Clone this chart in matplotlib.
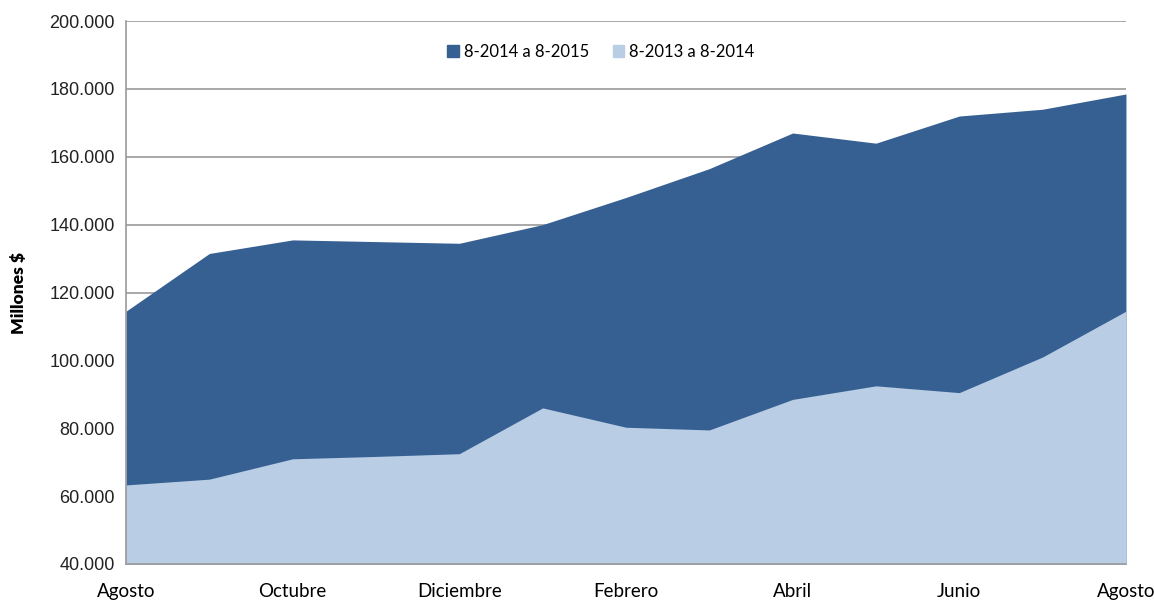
import matplotlib.pyplot as plt
from matplotlib.patches import Patch
from matplotlib.ticker import FuncFormatter

meses = ['Agosto', 'Septiembre', 'Octubre', 'Noviembre', 'Diciembre', 'Enero', 'Febrero',
         'Marzo', 'Abril', 'Mayo', 'Junio', 'Julio', 'Agosto']
serie_2015 = [114500, 131500, 135500, 135000, 134500, 140000, 148000,
              156500, 167000, 164000, 172000, 174000, 178500]
serie_2014 = [63300, 65000, 71000, 71700, 72500, 86000, 80300,
              79500, 88500, 92500, 90500, 101000, 114500]
etiquetas = ['8-2014 a 8-2015', '8-2013 a 8-2014']
colores = ['#366092', '#B9CDE5']

fig = plt.figure(figsize=(11.54, 6), dpi=100)
ax = fig.add_axes([0.1092, 0.06, 0.8665, 0.905])

x = list(range(len(meses)))
base = 40000
ax.fill_between(x, base, serie_2015, color=colores[0], linewidth=0, zorder=2)
ax.fill_between(x, base, serie_2014, color=colores[1], linewidth=0, zorder=3)

ax.set_xlim(0, len(meses) - 1)
ax.set_ylim(40000, 200000)
ax.set_yticks(range(40000, 200001, 20000))
ax.yaxis.set_major_formatter(FuncFormatter(lambda v, p: f'{int(v):,}'.replace(',', '.')))
ax.set_xticks(x[::2])
ax.set_xticklabels(meses[::2], fontfamily='Lato', fontsize=13.5)
for lab in ax.get_yticklabels():
    lab.set_fontfamily('Liberation Sans')
    lab.set_fontsize(13)
    lab.set_color('#222222')

ax.tick_params(axis='both', length=0)
ax.tick_params(axis='y', pad=8)
ax.tick_params(axis='x', pad=14)
ax.grid(axis='y', color='#9a9a9a', linewidth=1.2, zorder=1)
ax.set_axisbelow(True)
for s in ['top', 'right']:
    ax.spines[s].set_visible(False)
for s in ['left', 'bottom']:
    ax.spines[s].set_color('#9a9a9a')
    ax.spines[s].set_linewidth(1.2)
    ax.spines[s].set_zorder(4)

ax.set_ylabel('Millones $', fontfamily='Lato', fontweight='heavy', fontsize=12.5, labelpad=16)

handles = [Patch(color=c) for c in colores]
ax.legend(handles, etiquetas, loc='upper center', bbox_to_anchor=(0.475, 0.985), ncol=2,
          frameon=False, handlelength=0.7, handleheight=0.7, handletextpad=0.3,
          columnspacing=1.4, prop={'family': 'Lato', 'size': 12})

fig.savefig('out.png', dpi=100)
